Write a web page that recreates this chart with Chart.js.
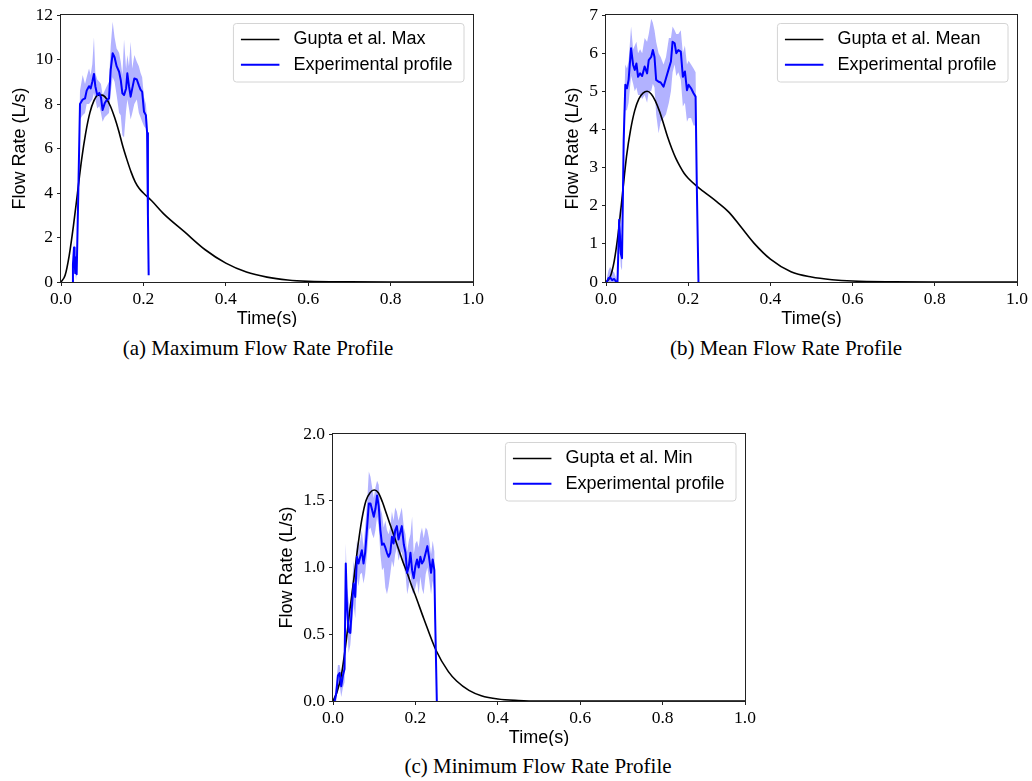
<!DOCTYPE html>
<html>
<head>
<meta charset="utf-8">
<script src="https://cdn.jsdelivr.net/npm/chart.js@4.4.1/dist/chart.umd.min.js"></script>
<style>
  body { margin: 0; background: #fff; width: 1032px; height: 781px; position: relative; overflow: hidden; }
  canvas { position: absolute; }
  .cap { position: absolute; font-family: "Liberation Serif", "Times New Roman", serif; font-size: 21px; line-height: 21px; white-space: nowrap; transform: translateX(-50%); color: #000; }
</style>
</head>
<body>
<canvas id="chartA" width="490" height="327" style="left:0;top:0"></canvas>
<canvas id="chartB" width="487" height="327" style="left:545px;top:0"></canvas>
<canvas id="chartC" width="490" height="327" style="left:272px;top:419px"></canvas>
<div class="cap" style="left:258px;top:338px">(a) Maximum Flow Rate Profile</div>
<div class="cap" style="left:786px;top:338px">(b) Mean Flow Rate Profile</div>
<div class="cap" style="left:538px;top:756px">(c) Minimum Flow Rate Profile</div>
<script>
// ---- (a) maximum ----
const guptaTimeA = [0,0.01,0.02,0.03,0.04,0.05,0.06,0.07,0.08,0.09,0.10,0.11,0.12,0.13,0.14,0.15,0.16,0.17,0.18,0.19,0.20,0.22,0.25,0.30,0.35,0.40,0.45,0.50,0.55,0.60,0.70,0.80,1.00];
const guptaMax = [0,0.3,1.2,2.5,4.0,5.5,6.7,7.6,8.15,8.4,8.4,8.25,7.9,7.4,6.8,6.1,5.5,4.95,4.5,4.2,4.0,3.65,3.05,2.25,1.45,0.85,0.45,0.22,0.09,0.03,0.005,0,0];
const expTimeA = [0.0275,0.029,0.0316,0.033,0.0345,0.036,0.038,0.042,0.0461,0.0526,
  0.0583,0.0623,0.068,0.072,0.076,0.080,0.0833,0.088,0.093,0.097,
  0.101,0.106,0.111,0.1165,0.1206,0.1254,0.130,0.135,0.141,0.145,
  0.149,0.153,0.158,0.161,0.165,0.169,0.173,0.178,0.184,0.189,
  0.193,0.197,0.2015,0.206,0.209,0.211,0.2128];
const expMeanA = [0,0.8,1.55,1.0,0.4,1.1,0.35,4.0,8.0,8.2,
  8.25,8.6,8.8,8.7,9.0,9.35,8.8,8.4,8.5,8.3,
  7.73,8.03,8.18,8.25,9.53,10.28,10.1,9.7,9.45,9.08,
  8.48,8.4,8.7,9.38,8.8,8.33,8.7,9.15,9.1,8.84,
  8.65,8.55,7.65,7.5,6.7,3.0,0.3];
const expHighA = [0,1.0,1.9,1.4,0.7,1.5,0.7,4.6,8.6,9.3,
  8.9,9.2,9.6,9.3,9.8,11.0,9.4,9.1,9.0,8.9,
  8.4,8.6,8.8,9.0,10.6,11.7,11.0,10.5,10.3,9.9,
  9.3,10.9,9.6,10.2,9.7,10.8,9.6,10.2,9.9,9.7,
  9.4,9.2,8.3,8.0,7.3,3.5,0.5];
const expLowA = [0,0.4,1.1,0.6,0.1,0.7,0.05,3.4,7.3,7.5,
  7.6,8.0,8.0,8.1,8.2,8.5,8.2,7.8,7.9,7.6,
  7.2,7.4,7.5,7.6,8.5,9.2,9.0,8.4,7.6,7.5,
  6.6,6.5,7.7,8.2,7.8,7.3,7.6,8.0,8.2,7.6,
  7.4,7.2,7.0,6.9,6.2,2.5,0.1];

// ---- (b) mean ----
const guptaTimeB = [0,0.01,0.02,0.03,0.04,0.05,0.06,0.07,0.08,0.09,0.10,0.11,0.12,0.13,0.14,0.15,0.16,0.17,0.18,0.19,0.20,0.22,0.24,0.27,0.30,0.33,0.36,0.40,0.45,0.50,0.55,0.60,0.70,0.80,1.00];
const guptaMean = [0,0.13,0.55,1.3,2.3,3.3,4.0,4.5,4.8,4.95,5.0,4.93,4.75,4.48,4.15,3.8,3.5,3.24,3.03,2.85,2.72,2.52,2.35,2.1,1.82,1.42,1.02,0.6,0.27,0.13,0.06,0.025,0.005,0,0];
const expTimeB = [0.002,0.006,0.010,0.015,0.020,0.025,0.028,0.032,0.036,0.039,
  0.043,0.047,0.051,0.055,0.061,0.066,0.070,0.074,0.078,0.083,
  0.088,0.094,0.100,0.104,0.110,0.114,0.118,0.122,0.128,0.133,
  0.140,0.146,0.153,0.158,0.162,0.167,0.171,0.176,0.182,0.187,
  0.192,0.197,0.201,0.207,0.213,0.218,0.221,0.225];
const expMeanB = [0.0,0.1,0.12,0.05,0.08,0.0,0.0,1.63,0.75,0.62,
  3.7,5.17,5.08,5.3,6.13,5.69,5.56,5.73,5.38,5.47,
  5.4,5.65,5.47,5.82,5.9,6.08,5.9,5.3,5.25,5.23,
  5.12,5.34,5.6,5.78,6.3,6.26,6.0,6.08,6.04,5.38,
  5.52,5.03,5.17,5.08,4.95,4.86,2.5,0];
const expHighB = [0.1,0.3,0.4,0.3,0.25,0.1,0.05,2.0,1.3,1.2,
  4.3,5.7,5.6,5.8,6.7,6.1,6.2,6.3,6.0,6.1,
  6.0,6.4,6.3,6.5,6.9,6.8,6.6,6.3,6.0,5.9,
  5.7,5.9,6.4,6.4,6.7,6.6,6.5,6.5,6.6,6.0,
  6.2,5.7,5.8,5.7,5.6,5.5,2.8,0];
const expLowB = [0,0,0,0,0,0,0,1.2,0.4,0.3,
  3.1,4.5,4.5,4.7,5.4,5.2,5.0,5.1,4.9,4.9,
  4.8,4.9,4.7,5.0,5.0,5.2,5.1,4.4,3.9,4.2,
  4.3,4.4,4.7,5.0,5.5,5.7,5.4,5.5,5.3,4.6,
  4.7,4.2,4.3,4.3,4.1,4.1,2.2,0];

// ---- (c) minimum ----
const guptaTimeC = [0,0.01,0.02,0.03,0.04,0.05,0.06,0.07,0.08,0.09,0.10,0.11,0.12,0.13,0.14,0.15,0.16,0.17,0.18,0.19,0.20,0.22,0.25,0.28,0.30,0.33,0.36,0.40,0.45,0.50,0.60,0.80,1.00];
const guptaMin = [0,0.07,0.19,0.4,0.66,0.9,1.15,1.36,1.5,1.56,1.58,1.56,1.49,1.4,1.31,1.22,1.13,1.04,0.96,0.87,0.79,0.62,0.38,0.22,0.15,0.08,0.04,0.015,0.004,0,0,0,0];
const expTimeC = [0.004,0.008,0.012,0.016,0.020,0.024,0.028,0.031,0.034,0.038,
  0.042,0.046,0.050,0.054,0.058,0.062,0.066,0.070,0.074,0.078,
  0.083,0.087,0.091,0.095,0.099,0.103,0.107,0.111,0.115,0.119,
  0.123,0.127,0.131,0.135,0.139,0.143,0.147,0.151,0.155,0.159,
  0.163,0.167,0.172,0.176,0.180,0.184,0.188,0.192,0.196,0.200,
  0.204,0.208,0.212,0.216,0.220,0.225,0.229,0.233,0.238,0.242,
  0.246,0.248,0.252];
const expMeanC = [0,0.06,0.19,0.21,0.11,0.19,0.24,1.03,0.71,0.52,
  0.51,0.71,0.88,0.78,1.08,1.03,1.08,1.13,1.03,1.11,
  1.31,1.48,1.48,1.43,1.38,1.44,1.54,1.46,1.28,1.17,
  1.18,1.15,1.11,1.08,1.11,1.23,1.18,1.28,1.31,1.21,
  1.26,1.31,1.17,1.11,0.96,1.01,1.11,0.98,0.92,1.01,
  1.06,1.0,1.08,1.03,1.05,1.11,1.16,1.08,0.96,1.06,
  0.98,0.61,0];
const expHighC = [0.05,0.15,0.27,0.27,0.2,0.25,0.35,1.18,0.85,0.75,
  0.68,0.85,1.05,0.95,1.2,1.15,1.2,1.28,1.15,1.3,
  1.5,1.72,1.68,1.6,1.52,1.6,1.65,1.62,1.45,1.4,
  1.3,1.35,1.28,1.25,1.3,1.42,1.35,1.45,1.42,1.35,
  1.4,1.45,1.3,1.25,1.12,1.2,1.25,1.38,1.1,1.18,
  1.2,1.15,1.25,1.3,1.22,1.3,1.28,1.22,1.1,1.2,
  1.12,0.7,0];
const expLowC = [0,0,0.1,0.12,0.03,0.1,0.14,0.85,0.55,0.36,
  0.42,0.56,0.72,0.62,0.92,0.86,0.95,0.96,0.88,0.95,
  1.12,1.28,1.3,1.25,1.22,1.28,1.38,1.3,1.1,0.98,
  1.0,0.85,0.8,0.86,0.95,1.05,1.0,1.1,1.15,1.05,
  1.1,1.12,1.0,0.95,0.8,0.86,0.96,0.82,0.8,0.85,
  0.9,0.8,0.93,0.84,0.8,0.95,1.0,0.92,0.8,0.9,
  0.82,0.5,0];

const SANS = '"Liberation Sans", Arial, sans-serif';
const SERIF = '"Liberation Serif", "Times New Roman", serif';

// box around the plot area (all four spines)
const framePlugin = {
  id: 'frame',
  afterDatasetsDraw(chart) {
    const { ctx, chartArea: a } = chart;
    ctx.save();
    ctx.strokeStyle = '#222';
    ctx.lineWidth = 1;
    ctx.strokeRect(Math.round(a.left) - 0.5, Math.round(a.top) - 0.5,
      Math.round(a.right - a.left) + 1, Math.round(a.bottom - a.top) + 1);
    ctx.restore();
  }
};

// matplotlib-like legend box in the upper right corner
const legendPlugin = {
  id: 'boxLegend',
  afterDraw(chart) {
    const { ctx, chartArea: a } = chart;
    const items = chart.data.datasets.filter(d => d.showInLegend);
    ctx.save();
    ctx.font = '18px ' + SANS;
    const textW = Math.max(...items.map(d => ctx.measureText(d.label).width));
    const w = 60 + textW + 11.5;
    const h = 58.5;
    const x = a.right - 9 - w;
    const y = a.top + 8.5;
    ctx.beginPath();
    if (ctx.roundRect) ctx.roundRect(x, y, w, h, 3); else ctx.rect(x, y, w, h);
    ctx.fillStyle = 'rgba(255,255,255,0.8)';
    ctx.fill();
    ctx.strokeStyle = '#d4d4d4';
    ctx.lineWidth = 1;
    ctx.stroke();
    items.forEach((d, i) => {
      const cy = y + 16 + i * 25.2;
      ctx.beginPath();
      ctx.moveTo(x + 7.5, cy);
      ctx.lineTo(x + 46, cy);
      ctx.strokeStyle = d.borderColor;
      ctx.lineWidth = d.borderWidth;
      ctx.stroke();
      ctx.fillStyle = '#000';
      ctx.textBaseline = 'middle';
      ctx.textAlign = 'left';
      ctx.fillText(d.label, x + 60, cy);
    });
    ctx.restore();
  }
};

function pts(ts, vs) {
  return ts.map((t, i) => ({ x: t, y: vs[i] }));
}

function makeChart(id, o) {
  const tickFont = { family: SERIF, size: 17.5 };
  const titleFont = { family: SANS, size: 18, lineHeight: 1 };
  return new Chart(document.getElementById(id), {
    type: 'line',
    data: {
      datasets: [
        { label: o.guptaLabel, data: pts(o.tG, o.gupta), borderColor: '#000000', borderWidth: 1.6,
          cubicInterpolationMode: 'monotone', order: 1, showInLegend: true },
        { label: 'Experimental profile', data: pts(o.tE, o.mean), borderColor: '#0000ff', borderWidth: 2,
          tension: 0, order: 0, showInLegend: true },
        { label: 'upper', data: pts(o.tE, o.hi), borderWidth: 0, borderColor: 'rgba(0,0,0,0)',
          backgroundColor: 'rgba(0,0,255,0.3)', fill: '+1', tension: 0, order: 2 },
        { label: 'lower', data: pts(o.tE, o.lo), borderWidth: 0, borderColor: 'rgba(0,0,0,0)',
          fill: false, tension: 0, order: 3 }
      ]
    },
    options: {
      responsive: false,
      animation: false,
      devicePixelRatio: 1,
      layout: { padding: { top: 15, right: o.padRight, left: 0, bottom: 0 } },
      elements: { point: { radius: 0 }, line: { borderJoinStyle: 'round' } },
      plugins: { legend: { display: false }, tooltip: { enabled: false } },
      scales: {
        x: {
          type: 'linear', min: 0, max: 1,
          ticks: { stepSize: 0.2, callback: v => v.toFixed(1), font: tickFont, color: '#000',
            padding: 3, maxRotation: 0, autoSkip: false },
          grid: { drawOnChartArea: false, drawTicks: true, tickLength: 4, color: '#222' },
          border: { display: false },
          title: { display: true, text: 'Time(s)', font: titleFont, color: '#000', padding: { top: 0, bottom: -1 } },
          afterFit(s) { s.height = 45; }
        },
        y: {
          min: 0, max: o.yMax,
          ticks: { stepSize: o.yStep, callback: v => v.toFixed(o.yDec), font: tickFont, color: '#000', padding: 4 },
          grid: { drawOnChartArea: false, drawTicks: true, tickLength: 4, color: '#222' },
          border: { display: false },
          title: { display: true, text: 'Flow Rate (L/s)', font: titleFont, color: '#000',
            padding: { top: o.yTitlePad, bottom: 0 } },
          afterFit(s) { s.width = 61; }
        }
      }
    },
    plugins: [framePlugin, legendPlugin]
  });
}

makeChart('chartA', { tG: guptaTimeA, gupta: guptaMax, guptaLabel: 'Gupta et al. Max',
  tE: expTimeA, mean: expMeanA, hi: expHighA, lo: expLowA,
  yMax: 12, yStep: 2, yDec: 0, padRight: 17, yTitlePad: 11 });
makeChart('chartB', { tG: guptaTimeB, gupta: guptaMean, guptaLabel: 'Gupta et al. Mean',
  tE: expTimeB, mean: expMeanB, hi: expHighB, lo: expLowB,
  yMax: 7, yStep: 1, yDec: 0, padRight: 15, yTitlePad: 19.5 });
makeChart('chartC', { tG: guptaTimeC, gupta: guptaMin, guptaLabel: 'Gupta et al. Min',
  tE: expTimeC, mean: expMeanC, hi: expHighC, lo: expLowC,
  yMax: 2, yStep: 0.5, yDec: 1, padRight: 17, yTitlePad: 6.5 });
</script>
</body>
</html>
